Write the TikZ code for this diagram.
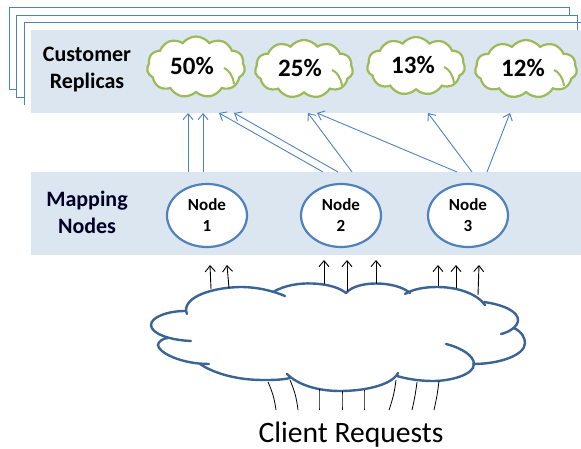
\documentclass[tikz,border=0pt]{standalone}
\usepackage{fontspec}
\setmainfont{Carlito}
\usetikzlibrary{arrows.meta,shapes.symbols,shapes.geometric}
\definecolor{bandblue}{HTML}{DCE6F1}
\definecolor{lineblue}{HTML}{4F81BD}
\definecolor{cloudgreen}{HTML}{9BBB59}
\definecolor{cloudblue}{HTML}{3A6494}
\tikzset{
   frame/.style={draw=lineblue,fill=white,line width=0.9pt},
   band/.style={fill=bandblue,minimum width=550pt,minimum height=83pt,inner sep=0pt},
   title/.style={font=\bfseries\fontsize{22}{27}\selectfont,align=center,inner sep=0pt},
   share/.style={shape=cloud,cloud puffs=11,cloud puff arc=105,draw=cloudgreen,fill=white,line width=2.2pt,
      inner sep=0pt,aspect=1.6},
   pct/.style={font=\bfseries\fontsize{25}{28}\selectfont,inner sep=0pt},
   mapnode/.style={ellipse,draw=lineblue,fill=white,line width=2.2pt,minimum width=80pt,minimum height=63pt,
      font=\bfseries\fontsize{17}{21}\selectfont,align=center,inner sep=0pt,text depth=0pt},
   hop/.style={lineblue,line width=0.9pt,-{Straight Barb[length=6pt,width=10pt]}},
   req/.style={black,line width=0.9pt,-{Straight Barb[length=6pt,width=10pt]}},
   feed/.style={black,line width=0.8pt},
   puff/.style={cloudblue,line width=2.4pt,line cap=round}
}
\begin{document}
\begin{tikzpicture}[x=1pt,y=-1pt]
   \useasboundingbox (0,0) rectangle (581,449);

   % stacked replicas behind the band
   \draw[frame] (9,7) rectangle (569,89);
   \draw[frame] (16,15) rectangle (577,97);
   \draw[frame] (24,105) -- (24,22.5) -- (581,22.5);

   \node (replicas) [band,anchor=north west] at (31,30) {};
   \node (mapping) [band,anchor=north west] at (31,172) {};

   \node (custtitle) [title] at (87,69.5) {Customer\\Replicas};
   \node (maptitle) [title,text=black!85!blue] at (87,212) {Mapping\\Nodes};

   \node (c1) [share,minimum width=98pt,minimum height=61pt] at (196,67) {};
   \node (c2) [share,minimum width=98pt,minimum height=58pt] at (304,69) {};
   \node (c3) [share,minimum width=98pt,minimum height=58pt] at (416,66) {};
   \node (c4) [share,minimum width=102pt,minimum height=58pt] at (526,69) {};
   \foreach \i in {1,2,3,4}
      \draw[cloudgreen,line width=2pt,shift={(c\i)}] (28,1) .. controls (33,3) and (37,9) .. (38,17);
   \node (p1) [pct] at (192,66) {50\%};
   \node (p2) [pct] at (300,68) {25\%};
   \node (p3) [pct] at (413,65) {13\%};
   \node (p4) [pct] at (523,68) {12\%};

   \node (n1) [mapnode] at (207,215.5) {Node\\1};
   \node (n2) [mapnode] at (341,215.5) {Node\\2};
   \node (n3) [mapnode] at (468,215.5) {Node\\3};

   \foreach \name/\x in {a/188,b/203,c/323,d/338,e/352,f/457,g/472,h/487}
      \coordinate (out\name) at (\x,172);
   \foreach \name/\x in {a/188,b/203,c/219,d/234,e/308,f/317,g/428,h/510}
      \coordinate (in\name) at (\x,113);
   \foreach \name in {a,b,c,d,e,f,g,h}
      \draw[hop] (out\name) to (in\name);

   % the big cloud, one open stroke per lobe
   \draw[puff] (187,314) .. controls (181,300) and (205,288) .. (240,287) .. controls (258,287) and (273,291) .. (285,296);
   \draw[puff] (273,292) .. controls (285,285) and (300,283) .. (312,283.5) .. controls (328,284) and (340,288) .. (346,293);
   \draw[puff] (346,293) .. controls (352,286) and (365,283.5) .. (376,283.5) .. controls (390,283.5) and (403,287) .. (410,293);
   \draw[puff] (405,294) .. controls (413,289) and (425,287) .. (437,287) .. controls (460,287) and (478,295) .. (485,305);
   \draw[puff] (484,302) .. controls (505,305) and (518,312) .. (518,320) .. controls (518,326) and (510,332) .. (501,334);
   \draw[puff] (514,328) .. controls (522,332) and (525,338) .. (525,343) .. controls (525,355) and (500,364) .. (473,364);
   \draw[puff] (446,344) .. controls (462,348) and (474,356) .. (474,364) .. controls (474,375) and (450,381) .. (433,381) .. controls (420,381) and (407,379) .. (397,376);
   \draw[puff] (398,373) .. controls (392,385) and (365,391) .. (340,391) .. controls (318,391) and (298,385) .. (287,374);
   \draw[puff] (290,378) .. controls (282,380) and (272,380) .. (263,380) .. controls (238,380) and (215,374) .. (200,364);
   \draw[puff] (209,364) .. controls (180,364) and (158,352) .. (158,345) .. controls (158,342) and (163,338) .. (168,338);
   \draw[puff] (191,341) .. controls (168,340) and (151,333) .. (151,325) .. controls (151,317) and (168,311) .. (185,311);

   \foreach \name/\x/\y/\u/\v in {a/211/289/210/265,b/229/288/227/265,c/324/284/324/260,d/347/291/347/260,
         e/376/284/376/260,f/438/286/438/265,g/456/288/456/265,h/478/295/479/265}{
      \coordinate (from\name) at (\x,\y);
      \coordinate (to\name) at (\u,\v);
      \draw[req] (from\name) to (to\name);
   }

   \foreach \name/\x/\y/\u/\b in {a/268/382/276/-8,b/290/380/298/-8,c/319/389/319/0,d/342/391/342/0,
         e/364/390/364/0,f/396/380/389/-6,g/417/382/412/-3,h/439/381/434/-3}{
      \coordinate (src\name) at (\u,410);
      \coordinate (edge\name) at (\x,\y);
      \draw[feed] (src\name) to[bend left=\b] (edge\name);
   }

   \node (client) [font=\fontsize{29.6}{32}\selectfont,inner sep=0pt] at (351,435) {Client Requests};
\end{tikzpicture}
\end{document}
